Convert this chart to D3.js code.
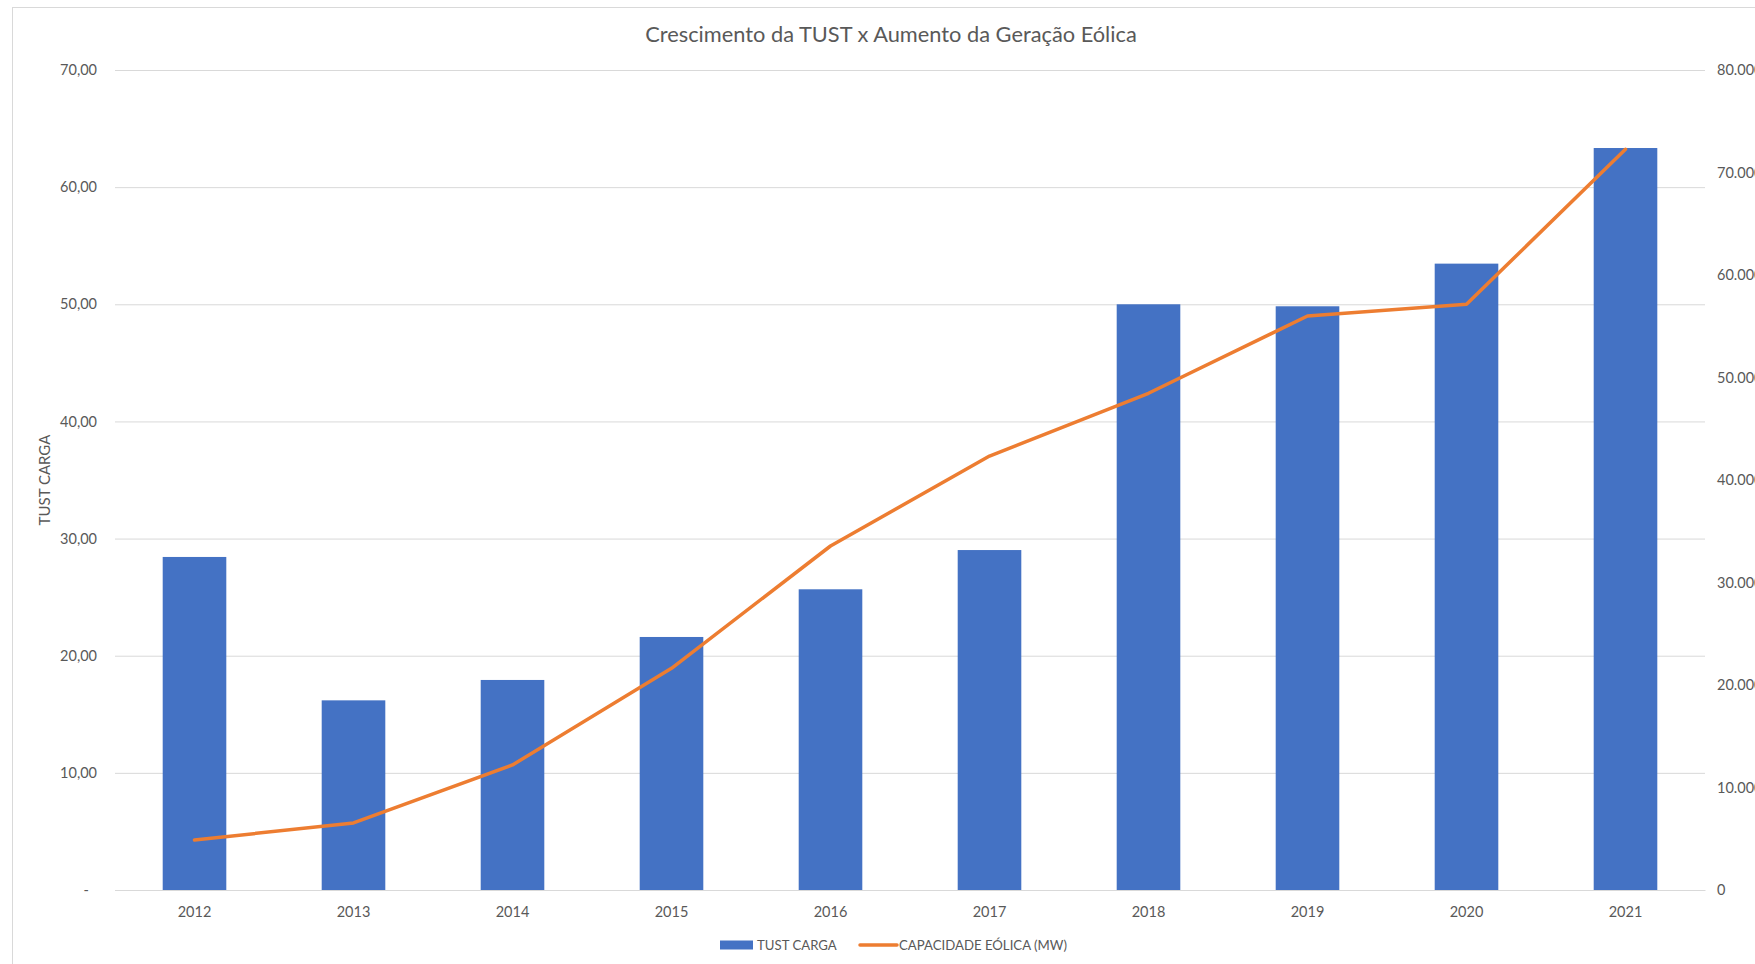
<!DOCTYPE html>
<html lang="pt-BR">
<head>
<meta charset="utf-8">
<title>Crescimento da TUST x Aumento da Geração Eólica</title>
<script src="https://cdn.jsdelivr.net/npm/d3@7"></script>
<style>
    html, body { margin: 0; padding: 0; background: #fff; overflow: hidden; }
    svg { display: block; font-family: Lato, "Noto Sans", sans-serif; }
</style>
</head>
<body>
<div id="chart"></div>
<script>
// data
const years = ["2012", "2013", "2014", "2015", "2016", "2017", "2018", "2019", "2020", "2021"];
const tustCarga = [28.43, 16.19, 17.93, 21.60, 25.67, 29.02, 50.00, 49.83, 53.47, 63.34];
const capacidadeEolica = [4880, 6540, 12200, 21630, 33560, 42340, 48460, 56000, 57140, 72260];
const leftTicks = [0, 10, 20, 30, 40, 50, 60, 70];
const rightTicks = [0, 10000, 20000, 30000, 40000, 50000, 60000, 70000, 80000];

const titleText = "Crescimento da TUST x Aumento da Geração Eólica";
const leftAxisTitle = "TUST CARGA";
const barSeriesName = "TUST CARGA";
const lineSeriesName = "CAPACIDADE EÓLICA (MW)";

document.addEventListener("DOMContentLoaded", () => {
    const width = 1755;
    const height = 964;
    const plot = { left: 115, right: 1705, top: 70, bottom: 890 };
    const textColor = "#595959";
    const gridColor = "#d9d9d9";
    const barColor = "#4472c4";
    const lineColor = "#ed7d31";

    const ptBR = d3.formatLocale({ decimal: ",", thousands: ".", grouping: [3], currency: ["R$", ""] });
    const fmtLeft = v => v === 0 ? "-" : ptBR.format(",.2f")(v);
    const fmtRight = v => ptBR.format(",.0f")(v);

    const svg = d3.select("#chart")
        .append("svg")
        .attr("width", width)
        .attr("height", height);

    // chart area border (runs off the right and bottom edges like the original)
    svg.append("rect")
        .attr("x", 12.5)
        .attr("y", 7.5)
        .attr("width", width)
        .attr("height", height)
        .attr("fill", "none")
        .attr("stroke", gridColor);

    const x = d3.scaleBand()
        .domain(years)
        .range([plot.left, plot.right])
        .paddingInner(0.6)
        .paddingOuter(0.3);

    const yLeft = d3.scaleLinear().domain([0, 70]).range([plot.bottom, plot.top]);
    const yRight = d3.scaleLinear().domain([0, 80000]).range([plot.bottom, plot.top]);

    // gridlines + left axis labels
    const leftAxis = d3.axisLeft(yLeft)
        .tickValues(leftTicks)
        .tickFormat(fmtLeft)
        .tickSize(-(plot.right - plot.left))
        .tickPadding(18);

    const gLeft = svg.append("g")
        .attr("transform", `translate(${plot.left},0)`)
        .call(leftAxis);
    gLeft.select(".domain").remove();
    gLeft.selectAll(".tick line").attr("stroke", gridColor).attr("stroke-width", 1);
    gLeft.selectAll(".tick text")
        .attr("fill", textColor)
        .attr("font-size", 14.5)
        .attr("font-family", "Lato, sans-serif")
        .attr("dx", d => d === 0 ? -8 : 0);

    // right axis labels
    const rightAxis = d3.axisRight(yRight)
        .tickValues(rightTicks)
        .tickFormat(fmtRight)
        .tickSize(0)
        .tickPadding(12);

    const gRight = svg.append("g")
        .attr("transform", `translate(${plot.right},0)`)
        .call(rightAxis);
    gRight.select(".domain").remove();
    gRight.selectAll(".tick text")
        .attr("fill", textColor)
        .attr("font-size", 14.5)
        .attr("font-family", "Lato, sans-serif");

    // bars
    svg.append("g")
        .selectAll("rect")
        .data(years)
        .join("rect")
        .attr("x", d => x(d))
        .attr("y", (d, i) => yLeft(tustCarga[i]))
        .attr("width", x.bandwidth())
        .attr("height", (d, i) => plot.bottom - yLeft(tustCarga[i]))
        .attr("fill", barColor);

    // category axis
    const bottomAxis = d3.axisBottom(x).tickSize(0).tickPadding(17);
    const gBottom = svg.append("g")
        .attr("transform", `translate(0,${plot.bottom})`)
        .call(bottomAxis);
    gBottom.select(".domain").attr("stroke", gridColor);
    gBottom.selectAll(".tick text")
        .attr("fill", textColor)
        .attr("font-size", 14.5)
        .attr("font-family", "Lato, sans-serif");

    // line
    const line = d3.line()
        .x((d, i) => x(years[i]) + x.bandwidth() / 2)
        .y(d => yRight(d));

    svg.append("path")
        .datum(capacidadeEolica)
        .attr("d", line)
        .attr("fill", "none")
        .attr("stroke", lineColor)
        .attr("stroke-width", 3.5)
        .attr("stroke-linejoin", "round")
        .attr("stroke-linecap", "round");

    // title
    svg.append("text")
        .attr("x", 891)
        .attr("y", 42)
        .attr("text-anchor", "middle")
        .attr("fill", textColor)
        .attr("font-size", 21.8)
        .text(titleText);

    // left axis title
    svg.append("text")
        .attr("transform", `translate(50,${(plot.top + plot.bottom) / 2}) rotate(-90)`)
        .attr("text-anchor", "middle")
        .attr("fill", textColor)
        .attr("font-size", 15)
        .text(leftAxisTitle);

    // legend
    const legend = svg.append("g").attr("transform", "translate(720,945)");
    legend.append("rect")
        .attr("x", 0)
        .attr("y", -4.5)
        .attr("width", 33)
        .attr("height", 9)
        .attr("fill", barColor);
    legend.append("text")
        .attr("x", 37)
        .attr("y", 5)
        .attr("fill", textColor)
        .attr("font-size", 13.2)
        .text(barSeriesName);
    legend.append("line")
        .attr("x1", 140)
        .attr("x2", 177)
        .attr("y1", 0)
        .attr("y2", 0)
        .attr("stroke", lineColor)
        .attr("stroke-width", 3.5)
        .attr("stroke-linecap", "round");
    legend.append("text")
        .attr("x", 179)
        .attr("y", 5)
        .attr("fill", textColor)
        .attr("font-size", 13.2)
        .text(lineSeriesName);
});
</script>
</body>
</html>
